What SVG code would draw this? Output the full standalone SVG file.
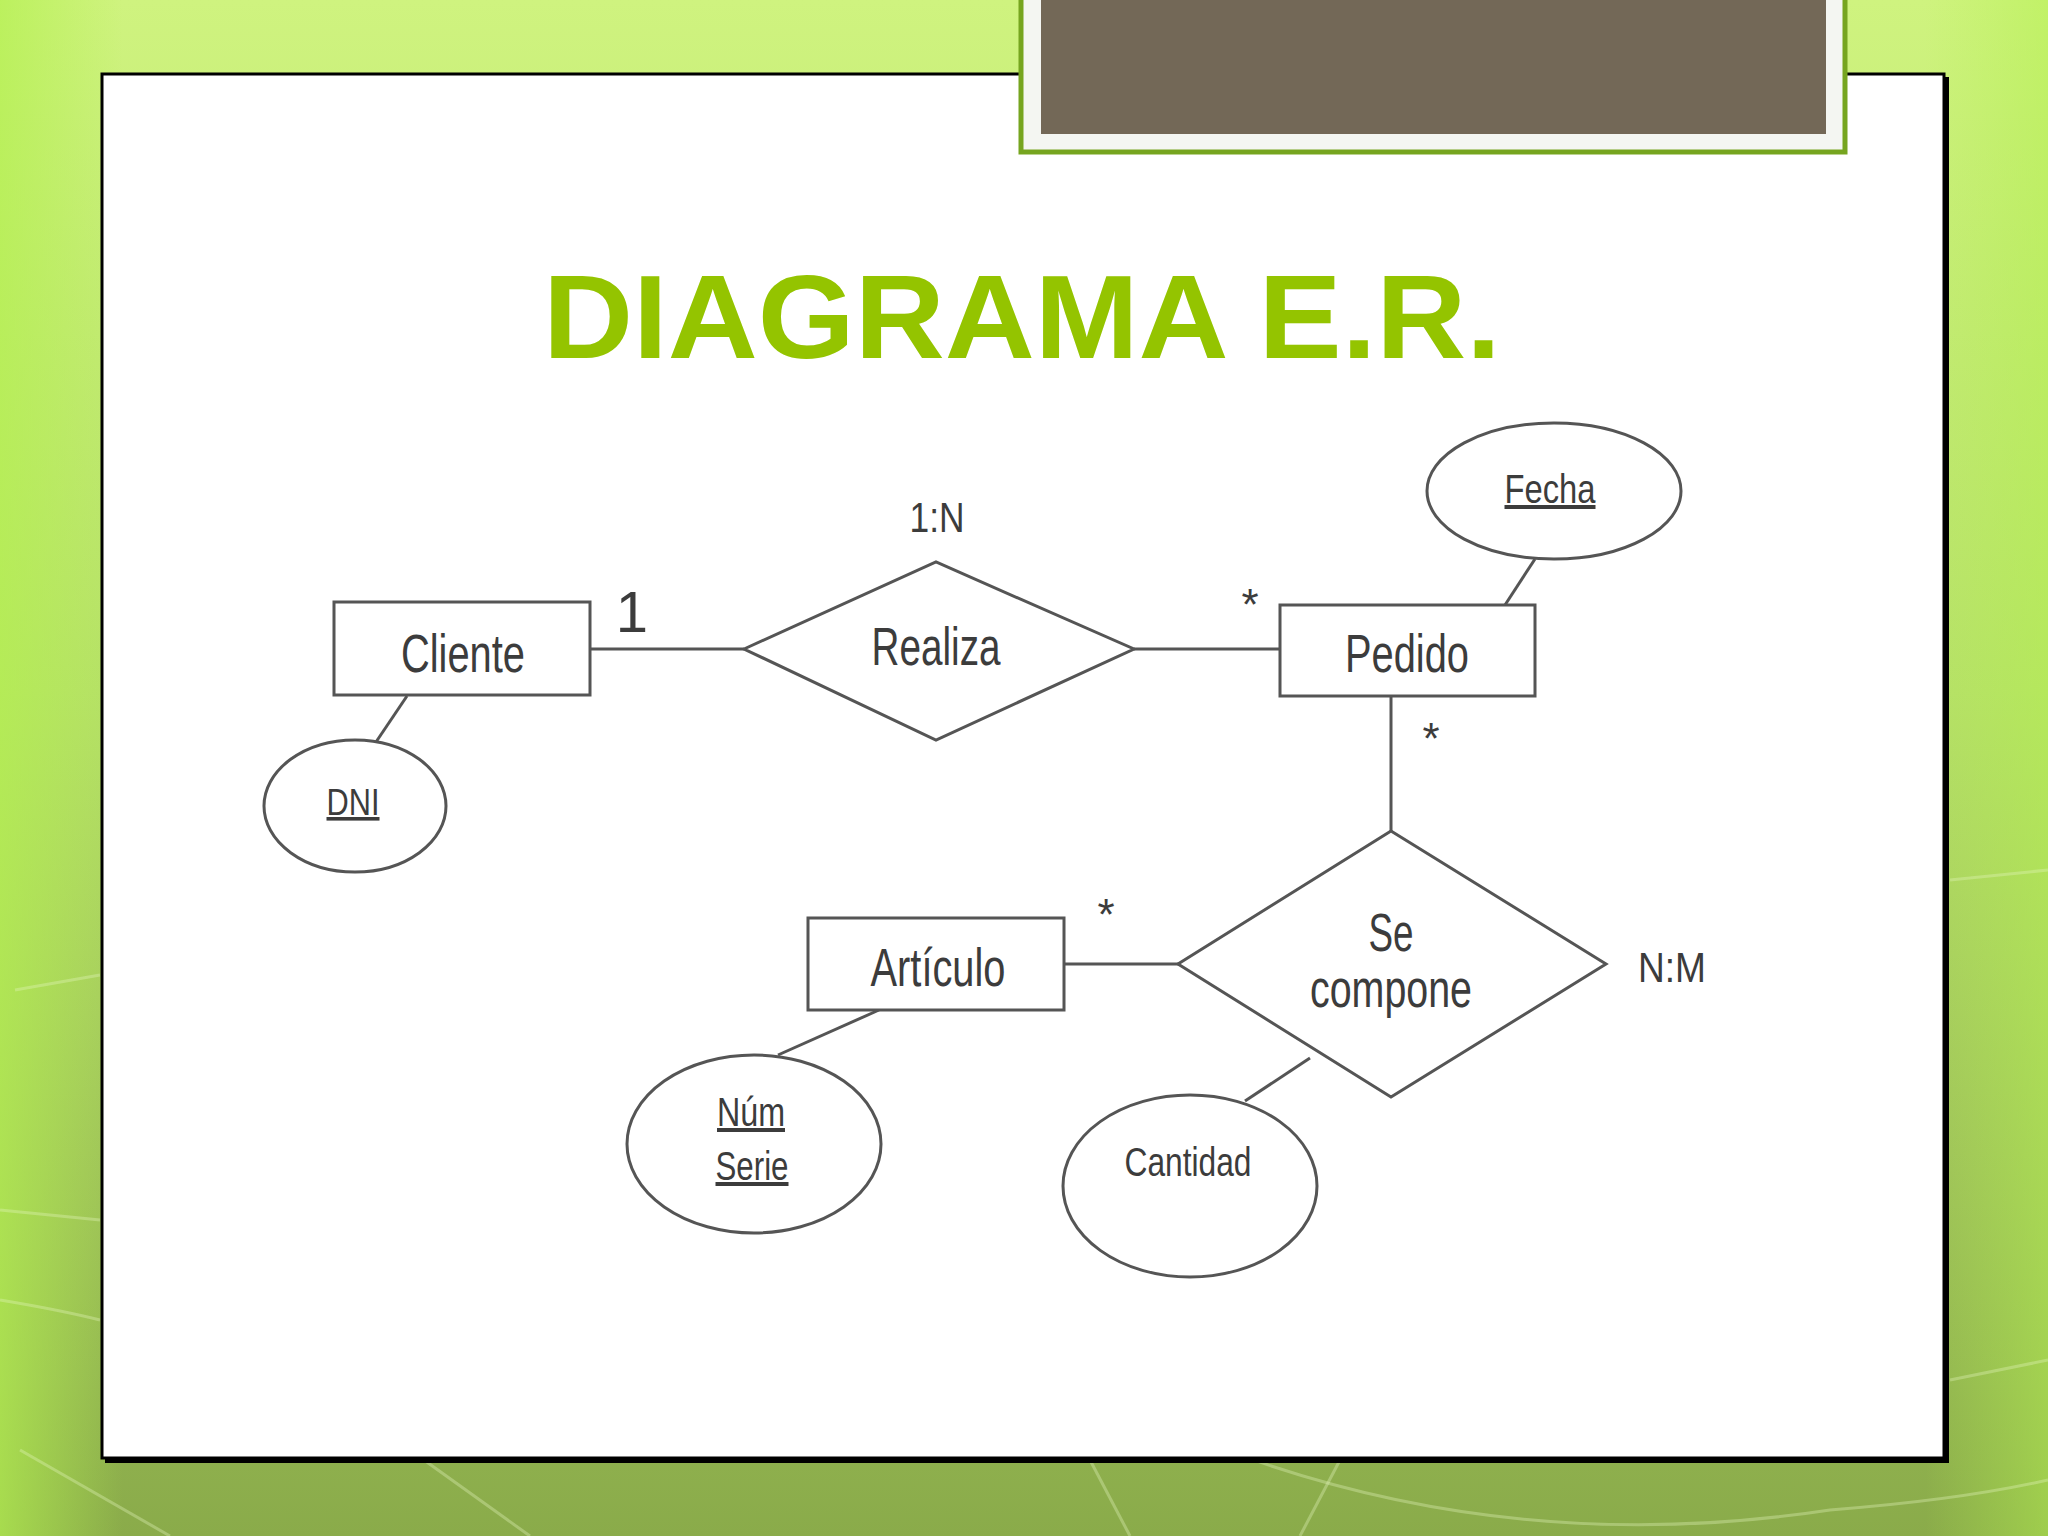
<svg xmlns="http://www.w3.org/2000/svg" width="2048" height="1536" viewBox="0 0 2048 1536">
<defs>
<linearGradient id="bg" x1="0" y1="0" x2="0" y2="1">
<stop offset="0" stop-color="#cff37f"/>
<stop offset="0.45" stop-color="#b6e068"/>
<stop offset="0.75" stop-color="#9fc25a"/>
<stop offset="1" stop-color="#8aab4a"/>
</linearGradient>
<linearGradient id="side" x1="0" y1="0" x2="1" y2="0">
<stop offset="0" stop-color="#b4f050" stop-opacity="0.7"/>
<stop offset="0.06" stop-color="#b4f050" stop-opacity="0"/>
<stop offset="0.94" stop-color="#b4f050" stop-opacity="0"/>
<stop offset="1" stop-color="#b4f050" stop-opacity="0.5"/>
</linearGradient>
<style>
.shape{fill:#ffffff;stroke:#555555;stroke-width:3}
.conn{stroke:#555555;stroke-width:3;fill:none}
.lbl{font-family:"Liberation Sans",Arial,sans-serif;fill:#3c3c3c;text-anchor:middle}
.big{font-size:54px}
.sm{font-size:42px}
.deco{stroke:#e6f5c0;stroke-opacity:0.35;stroke-width:3;fill:none}
</style>
</defs>
<rect width="2048" height="1536" fill="url(#bg)"/>
<rect width="2048" height="1536" fill="url(#side)"/>
<g class="deco">
<path d="M0 1300 Q60 1310 100 1320"/>
<path d="M1200 1440 Q1500 1560 1830 1510 Q1960 1500 2048 1480"/>
<path d="M20 1450 L170 1536"/>
<path d="M410 1450 L530 1536"/>
<path d="M1090 1460 L1130 1536"/>
<path d="M1340 1460 L1300 1536"/>
<path d="M1950 1380 L2048 1360"/>
<path d="M1950 880 L2048 870"/>
<path d="M0 1210 L100 1220"/>
<path d="M15 990 L100 975"/>
</g>
<g id="panel">
<rect x="105" y="77" width="1844" height="1386" fill="#000000"/>
<rect x="102" y="74" width="1842" height="1384" fill="#ffffff" stroke="#000000" stroke-width="3"/>
</g>
<g id="titlebox">
<rect x="1021" y="-10" width="824" height="162" fill="#f4f6f2" stroke="#76a51f" stroke-width="5"/>
<rect x="1041" y="-5" width="785" height="139" fill="#736857"/>
</g>
<g id="title">
<text x="1022" y="358" font-family="Liberation Sans,Arial,sans-serif" font-weight="bold" font-size="118" fill="#94c400" text-anchor="middle" textLength="958" lengthAdjust="spacingAndGlyphs">DIAGRAMA E.R.</text>
</g>
<g id="connectors">
<line class="conn" x1="590" y1="649" x2="744" y2="649"/>
<line class="conn" x1="1134" y1="649" x2="1280" y2="649"/>
<line class="conn" x1="407" y1="696" x2="376" y2="742"/>
<line class="conn" x1="1535" y1="559" x2="1505" y2="605"/>
<line class="conn" x1="1391" y1="696" x2="1391" y2="831"/>
<line class="conn" x1="1064" y1="964" x2="1178" y2="964"/>
<line class="conn" x1="879" y1="1010" x2="778" y2="1055"/>
<line class="conn" x1="1310" y1="1058" x2="1245" y2="1101"/>
</g>
<g id="cliente">
<rect class="shape" x="334" y="602" width="256" height="93"/>
<text class="lbl big" x="463" y="672" textLength="124" lengthAdjust="spacingAndGlyphs">Cliente</text>
</g>
<g id="dni">
<ellipse class="shape" cx="355" cy="806" rx="91" ry="66"/>
<text class="lbl" x="353" y="815" font-size="36" text-decoration="underline" textLength="53" lengthAdjust="spacingAndGlyphs">DNI</text>
</g>
<g id="realiza">
<polygon class="shape" points="744,649 936,562 1134,649 936,740"/>
<text class="lbl big" x="936" y="665" textLength="129" lengthAdjust="spacingAndGlyphs">Realiza</text>
</g>
<g id="pedido">
<rect class="shape" x="1280" y="605" width="255" height="91"/>
<text class="lbl big" x="1407" y="672" textLength="124" lengthAdjust="spacingAndGlyphs">Pedido</text>
</g>
<g id="fecha">
<ellipse class="shape" cx="1554" cy="491" rx="127" ry="68"/>
<text class="lbl" x="1550" y="503" font-size="40" text-decoration="underline" textLength="91" lengthAdjust="spacingAndGlyphs">Fecha</text>
</g>
<g id="secompone">
<polygon class="shape" points="1391,831 1606,964 1391,1097 1178,964"/>
<text class="lbl big" x="1391" y="951" textLength="45" lengthAdjust="spacingAndGlyphs">Se</text>
<text class="lbl big" x="1391" y="1007" textLength="162" lengthAdjust="spacingAndGlyphs">compone</text>
</g>
<g id="articulo">
<rect class="shape" x="808" y="918" width="256" height="92"/>
<text class="lbl big" x="938" y="986" textLength="135" lengthAdjust="spacingAndGlyphs">Artículo</text>
</g>
<g id="numserie">
<ellipse class="shape" cx="754" cy="1144" rx="127" ry="89"/>
<text class="lbl" x="751" y="1126" font-size="40" text-decoration="underline" textLength="68" lengthAdjust="spacingAndGlyphs">Núm</text>
<text class="lbl" x="752" y="1180" font-size="40" text-decoration="underline" textLength="73" lengthAdjust="spacingAndGlyphs">Serie</text>
</g>
<g id="cantidad">
<ellipse class="shape" cx="1190" cy="1186" rx="127" ry="91"/>
<text class="lbl" x="1188" y="1176" font-size="40" textLength="127" lengthAdjust="spacingAndGlyphs">Cantidad</text>
</g>
<g id="labels">
<text class="lbl sm" x="937" y="532" textLength="55" lengthAdjust="spacingAndGlyphs">1:N</text>
<text class="lbl" x="632" y="632" font-size="58">1</text>
<text class="lbl" x="1250" y="620" font-size="44">*</text>
<text class="lbl" x="1431" y="754" font-size="44">*</text>
<text class="lbl" x="1106" y="930" font-size="44">*</text>
<text class="lbl sm" x="1672" y="982" textLength="68" lengthAdjust="spacingAndGlyphs">N:M</text>
</g>
</svg>
